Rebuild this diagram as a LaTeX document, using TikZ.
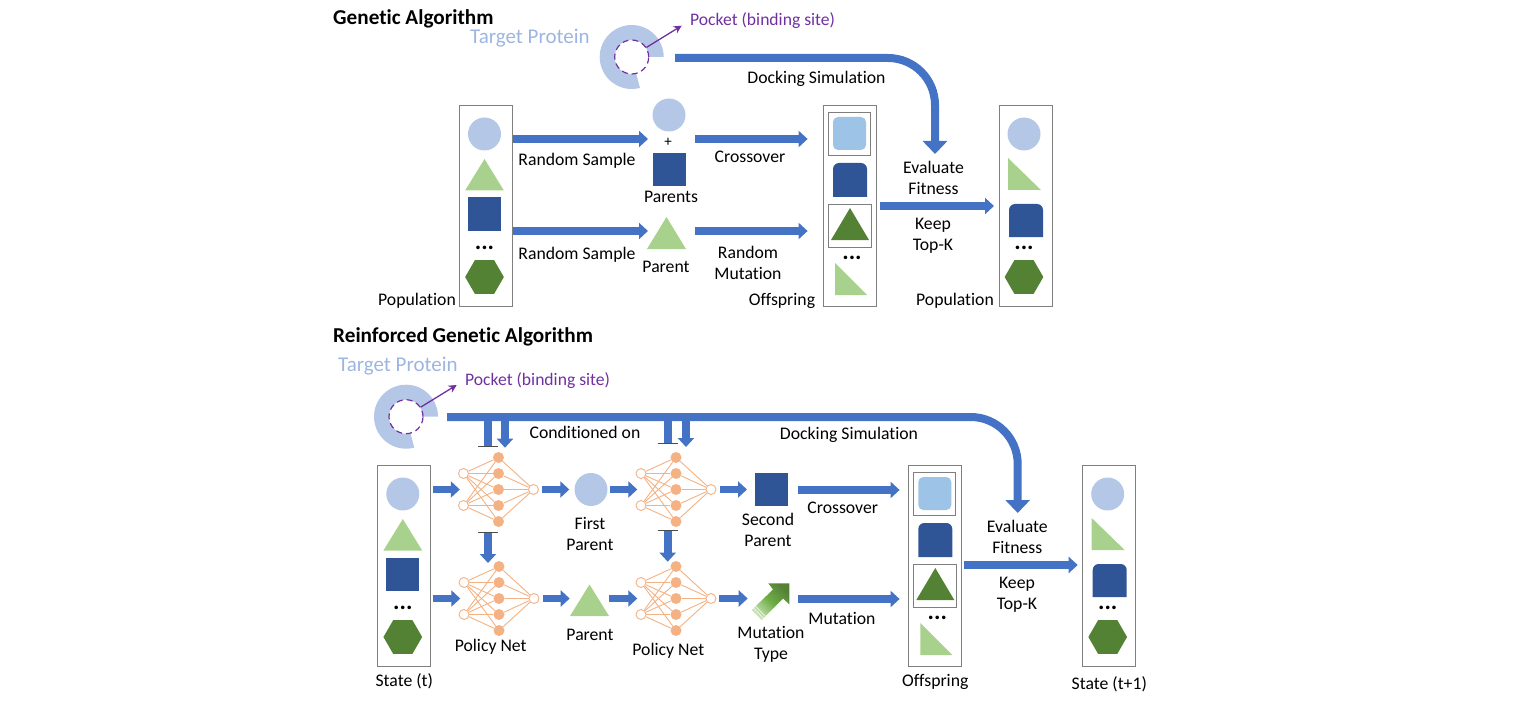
\documentclass[tikz,border=0pt]{standalone}
\usepackage{fontspec}
\setmainfont[Ligatures=NoCommon]{Carlito}
\usetikzlibrary{arrows.meta,shapes.geometric}
\definecolor{arrowblue}{HTML}{4472C4}
\definecolor{paleblue}{HTML}{B4C7E7}
\definecolor{targetblue}{HTML}{9DB5E2}
\definecolor{skyblue}{HTML}{9DC3E6}
\definecolor{navyblue}{HTML}{2F5597}
\definecolor{palegreen}{HTML}{A9D18E}
\definecolor{darkgreen}{HTML}{548235}
\definecolor{midgreen}{HTML}{70AD47}
\definecolor{netorange}{HTML}{F4B183}
\definecolor{pocketpurple}{HTML}{7030A0}
\definecolor{boxgray}{HTML}{7F7F7F}
\tikzset{
  lbl/.style={inner sep=0pt,align=center,font=\fontsize{17.7}{21}\selectfont},
  titlelbl/.style={inner sep=0pt,anchor=west,font=\fontsize{21.2}{24}\selectfont\bfseries},
  targetlbl/.style={inner sep=0pt,anchor=west,text=targetblue,font=\fontsize{21}{24}\selectfont},
  pocketlbl/.style={inner sep=0pt,anchor=west,text=pocketpurple,font=\fontsize{17.6}{20}\selectfont},
  dotslbl/.style={inner sep=0pt,font=\fontsize{24}{24}\selectfont\bfseries},
  colbox/.style={draw=boxgray,line width=0.8pt,minimum width=53pt,minimum height=201pt,inner sep=0pt},
  innerbox/.style={draw=boxgray,line width=0.8pt,inner sep=0pt},
  cellcircle/.style={circle,fill=paleblue,minimum size=33pt,inner sep=0pt},
  cellsquare/.style={fill=navyblue,minimum size=33pt,inner sep=0pt},
  cellhex/.style={regular polygon,regular polygon sides=6,fill=darkgreen,minimum size=38.7pt,inner sep=0pt},
  blockarrow/.style={draw=arrowblue,line width=7.5pt,-{Triangle[length=9pt,width=16pt]}},
  dockarrow/.style={draw=arrowblue,line width=8pt,rounded corners=47pt,-{Triangle[length=13pt,width=24pt]}},
  stubline/.style={draw=arrowblue,line width=8pt},
  barcap/.style={draw=black!70,line width=0.8pt},
  pocketcircle/.style={circle,draw=pocketpurple,line width=1.2pt,dash pattern=on 6pt off 4pt,minimum size=34pt,inner sep=0pt},
  pocketarrow/.style={draw=pocketpurple,line width=1.3pt,-{Stealth[length=8pt,width=8pt]}},
  hiddenunit/.style={circle,fill=netorange,minimum size=11pt,inner sep=0pt},
  endunit/.style={circle,draw=netorange,fill=white,line width=0.9pt,minimum size=10pt,inner sep=0pt},
  netedge/.style={draw=netorange,line width=0.9pt}
}
\newcommand{\uptri}[5]{\fill[#5] (#1,#2) -- (#1+#3,#2+#4) -- (#1-#3,#2+#4) -- cycle;}
\newcommand{\righttri}[4]{\fill[palegreen] (#1,#2) -- (#3,#4) -- (#1,#4) -- cycle;}
\newcommand{\topround}[4]{\fill[navyblue] (#1,#4) [rounded corners=6pt] -- (#1,#2) -- (#3,#2) [sharp corners] -- (#3,#4) -- cycle;}
\newcommand{\protein}[3]{
  \coordinate (#1-c) at (#2,#3);
  \fill[paleblue] ([shift={(0:32pt)}]#1-c) arc[start angle=0,end angle=285,radius=32pt]
    -- ([shift={(285:17pt)}]#1-c) arc[start angle=285,end angle=0,radius=17pt] -- cycle;
  \node[pocketcircle] (#1) at (#1-c) {};
}
\newcommand{\popcol}[3]{
  \begin{scope}[shift={(#2,#3)}]
    \node[colbox] (#1) at (26.5,100.5) {};
    \node[cellcircle] (#1-a) at (25.5,29) {};
    \uptri{25.5}{54}{19.4}{31.5}{palegreen}
    \node[cellsquare] (#1-b) at (25.5,109) {};
    \node[dotslbl] (#1-d) at (25.5,143) {...};
    \node[cellhex] (#1-h) at (25.5,172) {};
  \end{scope}
}
\newcommand{\offcol}[3]{
  \begin{scope}[shift={(#2,#3)}]
    \node[colbox] (#1) at (26.5,100.5) {};
    \node[innerbox,minimum width=42pt,minimum height=43pt] (#1-p) at (26,28.5) {};
    \fill[skyblue,rounded corners=5pt] (10,12) rectangle (43,45);
    \topround{10}{58}{44}{92}
    \node[innerbox,minimum width=43pt,minimum height=43pt] (#1-q) at (26.5,120.5) {};
    \uptri{27}{103}{19}{32}{darkgreen}
    \node[dotslbl] (#1-d) at (29,153) {...};
    \righttri{12}{158}{44}{190}
  \end{scope}
}
\newcommand{\finalcol}[3]{
  \begin{scope}[shift={(#2,#3)}]
    \node[colbox] (#1) at (26.5,100.5) {};
    \node[cellcircle] (#1-a) at (25,29) {};
    \righttri{9}{53}{42}{85}
    \topround{10}{99}{44}{132}
    \node[dotslbl] (#1-d) at (25,143) {...};
    \node[cellhex] (#1-h) at (25,172) {};
  \end{scope}
}
\newcommand{\policynet}[3]{
  \foreach \n/\dy in {a/-32,b/-16,c/0,d/16,e/32}
    \node[hiddenunit] (#1-\n) at (#2,#3+\dy) {};
  \node[endunit] (#1-i) at (#2-35,#3-16) {};
  \node[endunit] (#1-j) at (#2-35,#3+16) {};
  \node[endunit] (#1-o) at (#2+35,#3) {};
  \foreach \n in {a,b,c,d,e} {
    \draw[netedge] (#1-i) -- (#1-\n);
    \draw[netedge] (#1-j) -- (#1-\n);
    \draw[netedge] (#1-\n) -- (#1-o);
  }
  \coordinate (#1-in) at (#2-38.7,#3);
}
\begin{document}
\begin{tikzpicture}[x=1pt,y=-1pt]
  \useasboundingbox (0,0) rectangle (1519,706);

  \node[titlelbl] (titleA) at (333,18.5) {Genetic Algorithm};
  \node[targetlbl] (targetA) at (470,38.5) {Target Protein};
  \protein{protA}{631.7}{57}
  \coordinate (pocketAend) at (681.7,25.7);
  \draw[pocketarrow] (protA.33) -- (pocketAend);
  \node[pocketlbl] (pocketA) at (690,20.5) {Pocket (binding site)};

  \popcol{popA}{459}{105}
  \offcol{offA}{823}{105}
  \finalcol{finalA}{999}{105}

  \node[cellcircle] (parA) at (669,115) {};
  \node[inner sep=0pt,font=\fontsize{15}{16}\selectfont] (plusA) at (668,142) {+};
  \node[cellsquare] (parB) at (669.5,169.5) {};
  \uptri{666.5}{217}{19.5}{32}{palegreen}

  \coordinate (sampleAend) at (648,139);
  \coordinate (sampleBend) at (648,231);
  \coordinate (crossAbeg) at (695,139);
  \coordinate (mutAbeg) at (695,231);
  \coordinate (keepAbeg) at (880,206);
  \coordinate (keepAend) at (994,206);
  \coordinate (dockAbeg) at (675,58);
  \coordinate (dockAend) at (935,154);

  \draw[blockarrow,shorten <=1pt] (popA.east |- sampleAend) -- (sampleAend);
  \draw[blockarrow,shorten <=1pt] (popA.east |- sampleBend) -- (sampleBend);
  \draw[blockarrow,shorten >=15pt] (crossAbeg) -- (offA.west |- crossAbeg);
  \draw[blockarrow,shorten >=15pt] (mutAbeg) -- (offA.west |- mutAbeg);
  \draw[blockarrow] (keepAbeg) -- (keepAend);
  \draw[dockarrow] (dockAbeg) -| (dockAend);

  \node[lbl] (dockAlbl) at (816.5,78.5) {Docking Simulation};
  \node[lbl] (sampleAlbl) at (577,160.5) {Random Sample};
  \node[lbl] (sampleBlbl) at (577,254.5) {Random Sample};
  \node[lbl] (parentsA) at (671,196.5) {Parents};
  \node[lbl] (parentA) at (666,266.5) {Parent};
  \node[lbl] (crossAlbl) at (750,156.5) {Crossover};
  \node[lbl] (mutAlbl) at (748,262.5) {Random\\Mutation};
  \node[lbl] (evalA) at (933.5,177.5) {Evaluate\\Fitness};
  \node[lbl] (keepA) at (933,235.5) {Keep\\Top-K};
  \node[lbl] (popAlbl) at (417,300.5) {Population};
  \node[lbl] (offAlbl) at (782,300.5) {Offspring};
  \node[lbl] (finalAlbl) at (955,300.5) {Population};

  \node[titlelbl] (titleB) at (333,336.5) {Reinforced Genetic Algorithm};
  \node[targetlbl] (targetB) at (338,366.5) {Target Protein};
  \protein{protB}{406}{416.7}
  \coordinate (pocketBend) at (456.7,385);
  \draw[pocketarrow] (protB.33) -- (pocketBend);
  \node[pocketlbl] (pocketB) at (465,380.5) {Pocket (binding site)};

  \popcol{stateA}{377.3}{465}
  \offcol{offB}{908.3}{465}
  \finalcol{stateB}{1082.7}{465}

  \policynet{netA}{498.5}{489.5}
  \policynet{netB}{676}{489.5}
  \policynet{netC}{499}{598.5}
  \policynet{netD}{676}{598.5}

  \node[cellcircle] (firstP) at (591,489.5) {};
  \uptri{589.5}{584.5}{19.5}{31.5}{palegreen}
  \node[cellsquare] (secondP) at (771.3,489.8) {};
  \shade[bottom color=palegreen!60,top color=darkgreen,middle color=midgreen,shading angle=-45]
    (789.3,583.3) -- (789.3,604.3) -- (783,598.5) -- (761.7,620) -- (751.7,610) -- (773,589.5) -- (768.3,583.3) -- cycle;
  \draw[white,line width=0.6pt] (753.6,608.1) -- (763.6,618.1) (755.5,606.2) -- (765.5,616.2);

  \coordinate (dockBbeg) at (447,417);
  \coordinate (dockBend) at (1017.7,513);
  \coordinate (tapA) at (488,417);
  \coordinate (tapB) at (505,417);
  \coordinate (tapC) at (667.7,417);
  \coordinate (tapD) at (686,417);
  \coordinate (stubA) at (488,446.7);
  \coordinate (stubB) at (667.7,443.3);
  \coordinate (feedA) at (505,447.7);
  \coordinate (feedB) at (686,447);
  \coordinate (linkAbeg) at (488,532.7);
  \coordinate (linkAend) at (488,563);
  \coordinate (linkBbeg) at (667.7,530.7);
  \coordinate (linkBend) at (667.7,561.7);
  \coordinate (outAend) at (747,489.5);
  \coordinate (outBend) at (747.7,598.5);
  \coordinate (netCend) at (569.7,598.5);
  \coordinate (parentPbeg) at (609.3,598.5);
  \coordinate (crossBbeg) at (798,490);
  \coordinate (mutBbeg) at (798,599);
  \coordinate (keepBbeg) at (964,565);
  \coordinate (keepBend) at (1077.7,565);

  \draw[dockarrow] (dockBbeg) -| (dockBend);
  \draw[stubline] (tapA) -- (stubA);
  \draw[stubline] (tapC) -- (stubB);
  \draw[barcap] ([xshift=-10pt]stubA) -- ([xshift=10pt]stubA);
  \draw[barcap] ([xshift=-10pt]stubB) -- ([xshift=10pt]stubB);
  \draw[blockarrow,line width=8pt] (tapB) -- (feedA);
  \draw[blockarrow,line width=8pt] (tapD) -- (feedB);
  \draw[blockarrow,line width=8pt] (linkAbeg) -- (linkAend);
  \draw[blockarrow,line width=8pt] (linkBbeg) -- (linkBend);
  \draw[barcap] ([xshift=-10pt]linkAbeg) -- ([xshift=10pt]linkAbeg);
  \draw[barcap] ([xshift=-10pt]linkBbeg) -- ([xshift=10pt]linkBbeg);

  \draw[blockarrow,shorten <=2pt] (stateA.east |- netA-in) -- (netA-in);
  \draw[blockarrow,shorten <=2pt] (stateA.east |- netC-in) -- (netC-in);
  \draw[blockarrow,shorten <=3pt,shorten >=5pt] (netA-o) -- (firstP);
  \draw[blockarrow,shorten <=2pt] (firstP) -- (netB-in);
  \draw[blockarrow,shorten <=3.5pt] (netB-o) -- (outAend);
  \draw[blockarrow,shorten <=4pt] (netC-o) -- (netCend);
  \draw[blockarrow] (parentPbeg) -- (netD-in);
  \draw[blockarrow,shorten <=3pt] (netD-o) -- (outBend);
  \draw[blockarrow,shorten >=8.3pt] (crossBbeg) -- (offB.west |- crossBbeg);
  \draw[blockarrow,shorten >=8.3pt] (mutBbeg) -- (offB.west |- mutBbeg);
  \draw[blockarrow] (keepBbeg) -- (keepBend);

  \node[lbl] (condB) at (585,432) {Conditioned on};
  \node[lbl] (dockBlbl) at (849,434.5) {Docking Simulation};
  \node[lbl] (firstPlbl) at (590,533.5) {First\\Parent};
  \node[lbl] (parentPlbl) at (590,634.5) {Parent};
  \node[lbl] (secondPlbl) at (768,529.5) {Second\\Parent};
  \node[lbl] (mutPlbl) at (771,644.5) {Mutation\\Type};
  \node[lbl] (netClbl) at (490.7,646.5) {Policy Net};
  \node[lbl] (netDlbl) at (668.3,651) {Policy Net};
  \node[lbl] (crossBlbl) at (842.7,507.5) {Crossover};
  \node[lbl] (mutBlbl) at (842,618.5) {Mutation};
  \node[lbl] (evalB) at (1017.3,536.5) {Evaluate\\Fitness};
  \node[lbl] (keepB) at (1017,594.5) {Keep\\Top-K};
  \node[lbl] (stateAlbl) at (404.3,681) {State (t)};
  \node[lbl] (offBlbl) at (935.3,681.5) {Offspring};
  \node[lbl] (stateBlbl) at (1109.3,684.5) {State (t+1)};
\end{tikzpicture}
\end{document}
